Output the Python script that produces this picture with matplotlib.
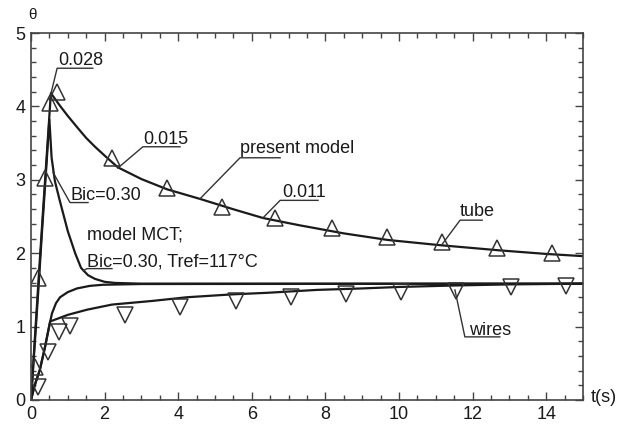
import matplotlib
matplotlib.use("Agg")
import matplotlib.pyplot as plt
from matplotlib.ticker import MultipleLocator

plt.rcParams['font.family'] = ['Liberation Sans', 'DejaVu Sans']

# ---- data ----
# present model, tube
tube_t = [0, 0.1, 0.2, 0.33, 0.43, 0.54, 0.8, 1.0, 1.28, 1.5, 1.74, 2.0, 2.36, 3.0,
          3.7, 4.59, 5.49, 6.3, 7.3, 8.5, 9.7, 11.1, 12.7, 14.0, 15.0]
tube_v = [0, 0.8, 1.6, 2.6, 3.35, 4.18, 4.0, 3.87, 3.70, 3.57, 3.45, 3.33, 3.17, 3.01,
          2.87, 2.74, 2.60, 2.48, 2.38, 2.27, 2.18, 2.11, 2.04, 1.99, 1.96]
# model MCT, tube
mct_tube_t = [0, 0.1, 0.2, 0.3, 0.4, 0.5, 0.56, 0.65, 0.78, 1.0, 1.2, 1.36, 1.55, 1.74,
              2.0, 2.28, 3.0, 15.0]
mct_tube_v = [0, 0.75, 1.5, 2.3, 3.05, 3.82, 3.3, 2.98, 2.72, 2.3, 2.0, 1.8, 1.7, 1.65,
              1.61, 1.595, 1.585, 1.585]
# present model, wires
wire_t = [0, 0.1, 0.24, 0.38, 0.52, 1.0, 1.52, 2.2, 3.3, 4.24, 5.5, 6.4, 7.77, 9.0,
          10.0, 11.5, 13.0, 15.0]
wire_v = [0, 0.2, 0.41, 0.72, 1.07, 1.16, 1.23, 1.30, 1.35, 1.40, 1.44, 1.46, 1.50,
          1.52, 1.54, 1.56, 1.575, 1.585]
# model MCT, wires
mct_wire_t = [0, 0.1, 0.24, 0.38, 0.5, 0.57, 0.68, 0.79, 1.0, 1.25, 1.6, 1.96, 3.0, 15.0]
mct_wire_v = [0, 0.2, 0.41, 0.72, 1.02, 1.18, 1.32, 1.40, 1.47, 1.52, 1.555, 1.57,
              1.58, 1.585]
# experimental, tube (up triangles)
exp_tube_t = [0.11, 0.19, 0.38, 0.52, 0.71, 2.2, 3.7, 5.19, 6.63, 8.18, 9.67, 11.17,
              12.66, 14.16]
exp_tube_v = [0.45, 1.66, 3.02, 4.05, 4.20, 3.30, 2.89, 2.63, 2.48, 2.34, 2.22, 2.15,
              2.07, 2.00]
# experimental, wires (down triangles)
exp_wire_t = [0.19, 0.46, 0.77, 1.06, 2.55, 4.05, 5.57, 7.06, 8.56, 10.05, 11.55,
              13.04, 14.54]
exp_wire_v = [0.18, 0.65, 0.93, 1.01, 1.16, 1.27, 1.35, 1.40, 1.44, 1.47, 1.49,
              1.54, 1.55]

# annotations: (text, text x, text baseline y, leader path)
labels = [
    ("0.028", 0.73, 4.57, [(0.52, 4.13), (0.71, 4.52), (1.68, 4.52)]),
    ("0.015", 3.04, 3.49, [(2.36, 3.16), (3.04, 3.45), (4.05, 3.45)]),
    ("present model", 5.68, 3.36, [(4.59, 2.74), (5.68, 3.30), (6.77, 3.30)]),
    ("0.011", 6.82, 2.77, [(6.30, 2.48), (6.77, 2.72), (7.80, 2.72)]),
    ("tube", 11.66, 2.51, [(11.17, 2.12), (11.66, 2.45), (12.26, 2.45)]),
    ("wires", 11.90, 0.89, [(11.52, 1.50), (11.79, 0.86), (12.74, 0.86)]),
    ("Bic=0.30", 1.06, 2.73, [(0.60, 3.10), (1.06, 2.69), (1.55, 2.69)]),
    ("Bic=0.30, Tref=117°C", 1.52, 1.82, [(1.42, 1.76), (1.52, 1.79), (2.20, 1.79)]),
]
plain_texts = [("model MCT;", 1.52, 2.18)]

fig = plt.figure(figsize=(6.27, 4.26), dpi=100)
ax = fig.add_axes([31/627, 1-400/426, (583-31)/627, (400-33)/426])

lw = 1.6
ink = '#1a1a1a'
ax.plot(tube_t, tube_v, color=ink, lw=lw)
ax.plot(mct_tube_t, mct_tube_v, color=ink, lw=lw)
ax.plot(wire_t, wire_v, color=ink, lw=lw)
ax.plot(mct_wire_t, mct_wire_v, color=ink, lw=lw)
ax.plot(exp_tube_t, exp_tube_v, ls='none', marker='^', ms=11, mfc='none',
        mec='#333333', mew=1.1)
ax.plot(exp_wire_t, exp_wire_v, ls='none', marker='v', ms=11, mfc='none',
        mec='#333333', mew=1.1)

fs = 13
for txt, x, y, path in labels:
    xs = [p[0] for p in path]
    ys = [p[1] for p in path]
    ax.plot(xs, ys, color='#333333', lw=1.0)
    ax.text(x, y, txt, fontsize=fs, va='baseline', ha='left', color=ink)
for txt, x, y in plain_texts:
    ax.text(x, y, txt, fontsize=fs, va='baseline', ha='left', color=ink)

ax.set_xlim(0, 15)
ax.set_ylim(0, 5)
ax.xaxis.set_major_locator(MultipleLocator(2))
ax.xaxis.set_minor_locator(MultipleLocator(0.5))
ax.yaxis.set_major_locator(MultipleLocator(1))
ax.yaxis.set_minor_locator(MultipleLocator(0.2))
ax.tick_params(which='both', direction='in', top=True, right=True,
               color='#444444', width=1.0, labelsize=fs, labelcolor=ink)
ax.tick_params(which='major', length=6, pad=4)
ax.tick_params(which='minor', length=3.5)
for s in ax.spines.values():
    s.set_color('#444444')
    s.set_linewidth(1.2)

ax.text(0.03, 5.24, "θ", fontsize=11, ha='center', va='center', clip_on=False,
        color=ink)
ax.text(15.2, 0.03, "t(s)", fontsize=fs, ha='left', va='center', clip_on=False,
        color=ink)

fig.savefig("out.png", dpi=100)
